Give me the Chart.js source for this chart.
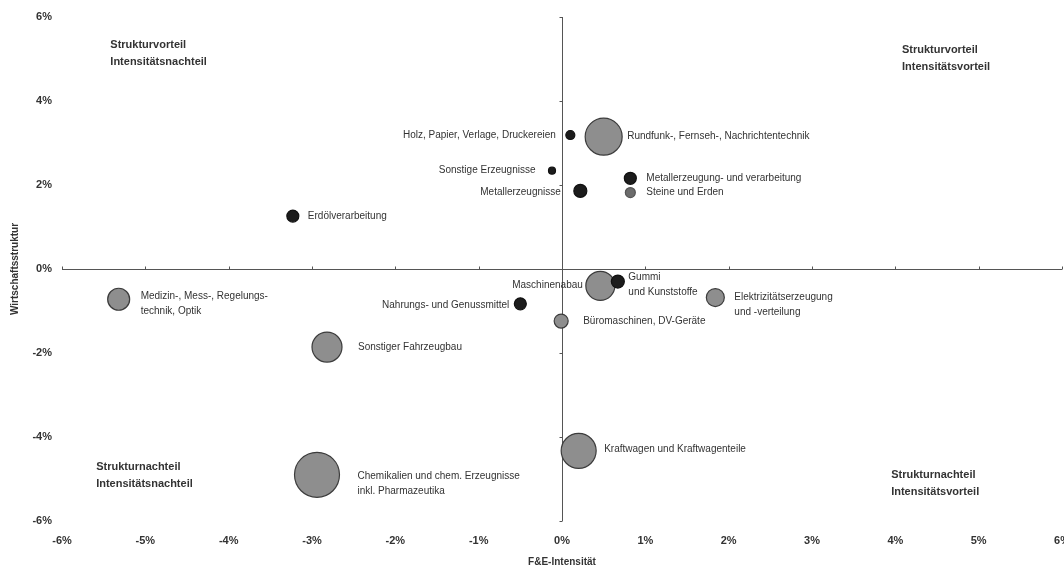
<!DOCTYPE html>
<html>
<head>
    <title>F&E-Intensität und Wirtschaftsstruktur</title>
    <style>
        html, body { margin: 0; padding: 0; background: #fff; }
        #wrap { width: 1064px; height: 568px; position: relative; }
    </style>
</head>
<body>
    <div id="wrap"><canvas id="myChart"></canvas></div>
<script src="https://cdn.jsdelivr.net/npm/chart.js"></script>
<script>
    // Branchen und Werte (Prozentpunkte)
    const branchen = [
        "Erdölverarbeitung",
        "Holz, Papier, Verlage, Druckereien",
        "Rundfunk-, Fernseh-, Nachrichtentechnik",
        "Sonstige Erzeugnisse",
        "Metallerzeugnisse",
        "Metallerzeugung- und verarbeitung",
        "Steine und Erden",
        "Maschinenabau",
        "Gummi\nund Kunststoffe",
        "Elektrizitätserzeugung\nund -verteilung",
        "Nahrungs- und Genussmittel",
        "Büromaschinen, DV-Geräte",
        "Medizin-, Mess-, Regelungs-\ntechnik, Optik",
        "Sonstiger Fahrzeugbau",
        "Kraftwagen und Kraftwagenteile",
        "Chemikalien und chem. Erzeugnisse\ninkl. Pharmazeutika"
    ];
    const feIntensitaet = [-3.23, 0.10, 0.50, -0.12, 0.22, 0.82, 0.82, 0.46, 0.67, 1.84, -0.50, -0.01, -5.32, -2.82, 0.20, -2.94];
    const wirtschaftsstruktur = [1.26, 3.19, 3.15, 2.34, 1.86, 2.16, 1.82, -0.40, -0.30, -0.68, -0.83, -1.24, -0.72, -1.86, -4.33, -4.90];
    const gewicht = [6, 4.5, 18.5, 3.5, 6.5, 6, 5, 14.5, 6.5, 9, 6, 7, 11, 15, 17.5, 22.5];
    const gruppe = ["d", "d", "g", "d", "d", "d", "m", "g", "d", "g", "d", "g", "g", "g", "g", "g"];
    const tickWerte = [-6, -5, -4, -3, -2, -1, 0, 1, 2, 3, 4, 5, 6];

    // Beschriftung: Seite, Abstand, vertikaler Versatz
    const labelSeite = ["r", "l", "r", "l", "l", "r", "r", "l", "r", "r", "l", "r", "r", "r", "r", "r"];
    const labelAbstand = [9, 10, 5, 13, 13, 10, 11, 3, 4, 10, 5, 15, 11, 16, 8, 18];
    const labelDy = [0, 0, 0, 0, 1, 0, 0, -1, 3, 7, 1, 0, 5, 0, -2, 9];

    const quadrantText = [
        ["Strukturvorteil", "Intensitätsnachteil"],
        ["Strukturvorteil", "Intensitätsvorteil"],
        ["Strukturnachteil", "Intensitätsnachteil"],
        ["Strukturnachteil", "Intensitätsvorteil"]
    ];
    const quadrantX = [-5.42, 4.08, -5.59, 3.95];
    const quadrantY = [5.33, 5.21, -4.71, -4.9];

    const farben = { d: "#1c1c1c", g: "#8e8e8e", m: "#6c6c6c" };
    const rahmen = { d: "#111", g: "#3c3c3c", m: "#555" };
    const schrift = "'Liberation Sans', Arial, sans-serif";

    const punkte = feIntensitaet.map((x, i) => ({ x: x, y: wirtschaftsstruktur[i], r: gewicht[i] }));

    // Achsenkreuz im Nullpunkt
    const achsenKreuz = {
        id: "achsenKreuz",
        beforeDatasetsDraw(chart) {
            const ctx = chart.ctx;
            const xs = chart.scales.x, ys = chart.scales.y;
            const x0 = Math.round(xs.getPixelForValue(0)) + 0.5, y0 = Math.round(ys.getPixelForValue(0)) + 0.5;
            ctx.save();
            ctx.strokeStyle = "#555";
            ctx.lineWidth = 1;
            ctx.beginPath();
            ctx.moveTo(xs.getPixelForValue(-6), y0);
            ctx.lineTo(xs.getPixelForValue(6), y0);
            ctx.moveTo(x0, ys.getPixelForValue(6));
            ctx.lineTo(x0, ys.getPixelForValue(-6));
            tickWerte.forEach(v => {
                const px = Math.round(xs.getPixelForValue(v)) + 0.5;
                ctx.moveTo(px, y0);
                ctx.lineTo(px, y0 - 3);
                if (v % 2 === 0) {
                    const py = Math.round(ys.getPixelForValue(v)) + 0.5;
                    ctx.moveTo(x0, py);
                    ctx.lineTo(x0 - 3, py);
                }
            });
            ctx.stroke();
            ctx.restore();
        },
        afterDatasetsDraw(chart) {
            const ctx = chart.ctx;
            const meta = chart.getDatasetMeta(0);
            ctx.save();
            ctx.fillStyle = "#333";
            ctx.font = "10px " + schrift;
            ctx.textBaseline = "middle";
            meta.data.forEach((el, i) => {
                const r = el.options.radius;
                const zeilen = branchen[i].split("\n");
                const links = labelSeite[i] === "l";
                ctx.textAlign = links ? "right" : "left";
                const tx = links ? el.x - r - labelAbstand[i] : el.x + r + labelAbstand[i];
                const ty = el.y + labelDy[i] - (zeilen.length - 1) * 15 / 2;
                zeilen.forEach((z, k) => ctx.fillText(z, tx, ty + k * 15));
            });
            // Quadranten
            ctx.font = "bold 11px " + schrift;
            ctx.textAlign = "left";
            quadrantText.forEach((q, i) => {
                const qx = chart.scales.x.getPixelForValue(quadrantX[i]);
                const qy = chart.scales.y.getPixelForValue(quadrantY[i]);
                q.forEach((z, k) => ctx.fillText(z, qx, qy + k * 17));
            });
            ctx.restore();
        }
    };

    const data = {
        datasets: [{
            label: "Branchen",
            data: punkte,
            backgroundColor: punkte.map((p, i) => farben[gruppe[i]]),
            borderColor: punkte.map((p, i) => rahmen[gruppe[i]]),
            borderWidth: 1.2
        }]
    };

    const config = {
        type: "bubble",
        data,
        plugins: [achsenKreuz],
        options: {
            responsive: false,
            animation: false,
            layout: { autoPadding: false, padding: { top: 17, right: 2, left: 0, bottom: 0 } },
            plugins: { legend: { display: false }, tooltip: { enabled: false } },
            scales: {
                x: {
                    type: "linear",
                    min: -6, max: 6,
                    grid: { display: false },
                    border: { display: false },
                    afterBuildTicks: s => { s.ticks = tickWerte.map(v => ({ value: v })); },
                    afterFit: s => { s.height = 47; s.paddingLeft = 0; s.paddingRight = 0; },
                    ticks: {
                        padding: 5,
                        color: "#333",
                        font: { family: schrift, size: 11, weight: "bold" },
                        maxRotation: 0,
                        callback: v => v + "%"
                    },
                    title: {
                        display: true,
                        text: "F&E-Intensität",
                        color: "#333",
                        padding: { top: 0, bottom: 0 },
                        font: { family: schrift, size: 10, weight: "bold" }
                    }
                },
                y: {
                    type: "linear",
                    min: -6, max: 6,
                    grid: { display: false },
                    border: { display: false },
                    afterBuildTicks: s => { s.ticks = [-6, -4, -2, 0, 2, 4, 6].map(v => ({ value: v })); },
                    afterFit: s => { s.width = 62; s.paddingTop = 0; s.paddingBottom = 0; },
                    ticks: {
                        padding: 2,
                        color: "#333",
                        font: { family: schrift, size: 11, weight: "bold" },
                        callback: v => v + "%"
                    },
                    title: {
                        display: true,
                        text: "Wirtschaftsstruktur",
                        color: "#333",
                        padding: { top: 9, bottom: 0 },
                        font: { family: schrift, size: 10, weight: "bold" }
                    }
                }
            }
        }
    };

    const canvas = document.getElementById("myChart");
    canvas.width = 1064;
    canvas.height = 568;
    let myChart = new Chart(canvas, config);
</script>
</body>
</html>
